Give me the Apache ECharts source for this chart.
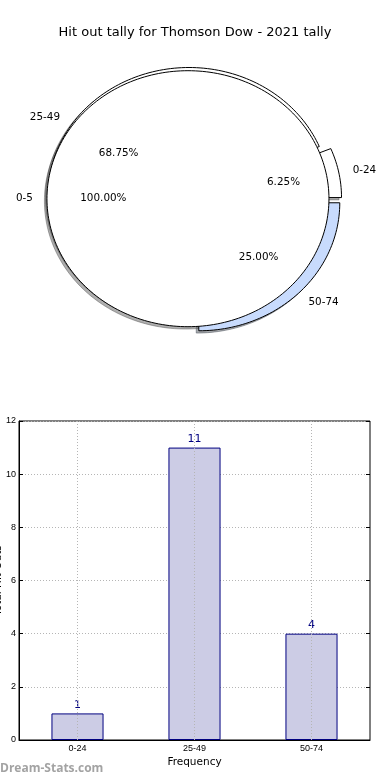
<!DOCTYPE html>
<html>
<head>
<meta charset="utf-8">
<script src="https://cdn.jsdelivr.net/npm/echarts@6/dist/echarts.min.js"></script>
<style>
html,body{margin:0;padding:0;background:#fff;}
#chart{width:390px;height:780px;}
</style>
</head>
<body>
<div id="chart"></div>
<script>
// ---- data ----
const titleText = 'Hit out tally for Thomson Dow - 2021 tally';
const pieCategories = ['0-24', '25-49', '50-74'];
const pieValues = [1, 11, 4];
const overlayCategories = ['0-5'];
const overlayValues = [1];
const barCategories = ['0-24', '25-49', '50-74'];
const barValues = [1, 11, 4];
const barAxisName = 'Total Hit Outs';
const barXAxisName = 'Frequency';
const yMin = 0, yMax = 12, yInterval = 2;

// ---- styles ----
const pieColors = ['#ffffff', '#ffffff', '#c8dbfd'];
const overlayColors = ['#ffffff'];
const EXPLODE = 0.045;
const FONT = 'DejaVu Sans';

function buildWedges(cats, vals, colors, layer) {
  const total = vals.reduce((a, b) => a + b, 0);
  let acc = 0;
  return cats.map((c, i) => {
    const t1 = acc / total * 360;
    acc += vals[i];
    const t2 = acc / total * 360;
    return { name: c, value: vals[i], pct: (vals[i] / total * 100).toFixed(2) + '%',
             t1: t1, t2: t2, color: colors[i], layer: layer, full: Math.abs(t2 - t1 - 360) < 1e-9 };
  });
}
const wedges = buildWedges(pieCategories, pieValues, pieColors, 0)
  .concat(buildWedges(overlayCategories, overlayValues, overlayColors, 1));

function wedgeCenter(w) {
  const mid = (w.t1 + w.t2) / 2 * Math.PI / 180;
  return [EXPLODE * Math.cos(mid), EXPLODE * Math.sin(mid)];
}
function wedgePoints(w, api, ox, oy) {
  const c = wedgeCenter(w);
  const pts = [];
  if (!w.full) pts.push(api.coord([c[0] + ox, c[1] + oy]));
  const n = Math.max(8, Math.ceil((w.t2 - w.t1) / 1.5));
  for (let k = 0; k <= n; k++) {
    const a = (w.t1 + (w.t2 - w.t1) * k / n) * Math.PI / 180;
    pts.push(api.coord([c[0] + Math.cos(a) + ox, c[1] + Math.sin(a) + oy]));
  }
  return pts;
}
function shade(hex) {
  const r = parseInt(hex.substr(1, 2), 16), g = parseInt(hex.substr(3, 2), 16), b = parseInt(hex.substr(5, 2), 16);
  return 'rgba(' + Math.round(r * 0.3) + ',' + Math.round(g * 0.3) + ',' + Math.round(b * 0.3) + ',0.45)';
}

const wedgeData = wedges.map((w, i) => [i, 0]);
const pie1Data = wedges.map((w, i) => [i, 0]).filter(d => wedges[d[0]].layer === 0);
const overlayData = wedges.map((w, i) => [i, 0]).filter(d => wedges[d[0]].layer === 1);

function renderShadow(params, api) {
  const w = wedges[api.value(0)];
  return { type: 'polygon', shape: { points: wedgePoints(w, api, -0.018, -0.018) },
           style: { fill: shade(w.color), stroke: shade(w.color), lineWidth: 1 } };
}
function renderWedge(params, api) {
  const w = wedges[api.value(0)];
  return { type: 'polygon', shape: { points: wedgePoints(w, api, 0, 0) },
           style: { fill: w.color, stroke: '#000', lineWidth: 1 } };
}
function renderLabel(params, api) {
  const w = wedges[api.value(0)];
  const c = wedgeCenter(w);
  const mid = (w.t1 + w.t2) / 2 * Math.PI / 180;
  const lx = c[0] + 1.1 * Math.cos(mid), ly = c[1] + 1.1 * Math.sin(mid);
  const px = c[0] + 0.6 * Math.cos(mid), py = c[1] + 0.6 * Math.sin(mid);
  const lp = api.coord([lx, ly]), pp = api.coord([px, py]);
  return { type: 'group', children: [
    { type: 'text', x: lp[0], y: lp[1], style: { text: w.name, fill: '#000', font: '10.4px "' + FONT + '"',
      align: lx > 0 ? 'left' : 'right', verticalAlign: 'middle' } },
    { type: 'text', x: pp[0], y: pp[1], style: { text: w.pct, fill: '#000', font: '10.4px "' + FONT + '"',
      align: 'center', verticalAlign: 'middle' } }
  ] };
}

const gridLine = { show: true, lineStyle: { color: '#b5b5b5', type: [1, 2], width: 1 } };

const option = {
  animation: false,
  backgroundColor: '#fff',
  title: { text: titleText, left: 'center', top: 21,
           textStyle: { fontFamily: FONT, fontSize: 13, fontWeight: 'normal', color: '#000' } },
  graphic: [{ type: 'text', left: 0, top: 763,
              style: { text: 'Dream-Stats.com', fill: '#a3a3a3', font: 'bold 12px "Open Sans"' } }],
  grid: [
    { left: 11, top: 32.3, width: 366.6, height: 332.8, containLabel: false, outerBoundsMode: 'none' },
    { left: 19, right: 20, top: 421, bottom: 40, show: true, borderColor: '#000', borderWidth: 1,
      containLabel: false, outerBoundsMode: 'none' }
  ],
  xAxis: [
    { gridIndex: 0, type: 'value', min: -1.3, max: 1.3, show: false },
    { gridIndex: 1, type: 'category', data: barCategories, boundaryGap: true,
      name: barXAxisName, nameLocation: 'middle', nameGap: 17, nameMoveOverlap: false,
      nameTextStyle: { fontFamily: FONT, fontSize: 10.5, color: '#000' },
      axisLine: { lineStyle: { color: '#000' } },
      axisTick: { inside: true, alignWithLabel: true, length: 4, lineStyle: { color: '#000' } },
      axisLabel: { fontFamily: 'Liberation Sans', fontSize: 9, color: '#000', margin: 4 },
      splitLine: { show: false } },
    { gridIndex: 1, type: 'category', data: barCategories, position: 'top',
      axisLine: { show: false }, axisLabel: { show: false },
      axisTick: { inside: true, alignWithLabel: true, length: 4, lineStyle: { color: '#000' } } }
  ],
  yAxis: [
    { gridIndex: 0, type: 'value', min: -1.3, max: 1.3, show: false },
    { gridIndex: 1, type: 'value', min: yMin, max: yMax, interval: yInterval,
      name: barAxisName, nameLocation: 'middle', nameGap: 15, nameRotate: 90, nameMoveOverlap: false,
      nameTextStyle: { fontFamily: FONT, fontSize: 10.5, color: '#000' },
      axisLine: { show: true, lineStyle: { color: '#000' } },
      axisTick: { show: true, inside: true, length: 4, lineStyle: { color: '#000' } },
      axisLabel: { fontFamily: 'Liberation Sans', fontSize: 9, color: '#000', margin: 3 },
      splitLine: gridLine },
    { gridIndex: 1, type: 'value', min: yMin, max: yMax, interval: yInterval, position: 'right',
      axisLine: { show: false }, axisLabel: { show: false }, splitLine: { show: false },
      axisTick: { show: true, inside: true, length: 4, lineStyle: { color: '#000' } } }
  ],
  series: [
    { type: 'custom', xAxisIndex: 0, yAxisIndex: 0, z: 1, silent: true, data: wedgeData, renderItem: renderShadow },
    { type: 'custom', xAxisIndex: 0, yAxisIndex: 0, z: 2, silent: true, data: pie1Data, renderItem: renderWedge },
    { type: 'custom', xAxisIndex: 0, yAxisIndex: 0, z: 3, silent: true, data: overlayData, renderItem: renderWedge },
    { type: 'custom', xAxisIndex: 0, yAxisIndex: 0, z: 4, silent: true, data: wedgeData, renderItem: renderLabel },
    { type: 'bar', xAxisIndex: 1, yAxisIndex: 1, data: barValues, barWidth: '44.5%',
      itemStyle: { color: '#ccccE5', borderColor: '#000080', borderWidth: 1 },
      label: { show: true, position: 'top', distance: 3, color: '#000080', fontFamily: FONT, fontSize: 11 },
      markLine: { silent: true, symbol: 'none', label: { show: false },
                  lineStyle: { color: '#b5b5b5', type: [1, 2], width: 1 },
                  data: barCategories.map(c => ({ xAxis: c })) } }
  ]
};
echarts.init(document.getElementById('chart'), null, { renderer: 'canvas' }).setOption(option);
</script>
</body>
</html>
